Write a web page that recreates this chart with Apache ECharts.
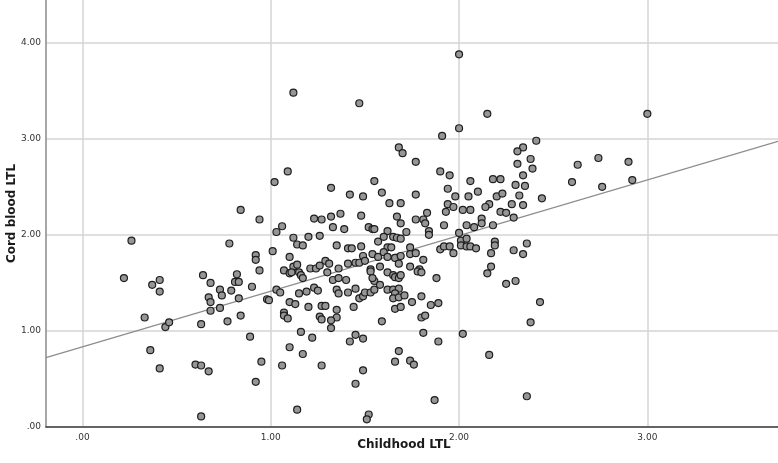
<!DOCTYPE html>
<html>
<head>
<meta charset="utf-8">
<script src="https://cdn.jsdelivr.net/npm/echarts@6/dist/echarts.min.js"></script>
<style>
  html, body { margin: 0; padding: 0; background: #fff; }
  #chart { width: 778px; height: 463px; }
</style>
</head>
<body>
<div id="chart"></div>
<script>
// axis ticks
var xTicks = [0, 1, 2, 3];
var yTicks = [0, 1, 2, 3, 4];

// childhood LTL (x) and cord blood LTL (y)
var childhoodLTL = [
  0.22,0.26,0.33,0.36,0.37,0.41,0.41,0.41,0.44,0.46,0.60,0.63,0.63,0.63,0.64,0.67,0.67,0.68,0.68,0.68,
  0.73,0.73,0.74,0.77,0.78,0.79,0.81,0.82,0.83,0.83,0.84,0.84,0.89,0.90,0.92,0.92,0.92,0.94,0.94,0.95,
  0.98,0.99,1.01,1.02,1.03,1.03,1.05,1.06,1.06,1.07,1.07,1.07,1.09,1.09,1.10,1.10,1.10,1.10,1.12,1.14,
  1.47,2.00,2.15,2.00,1.91,1.68,1.70,2.34,2.31,2.38,1.77,2.31,1.90,1.95,2.06,2.18,2.22,2.34,2.30,2.35,
  1.32,1.55,1.94,2.10,1.42,1.49,1.59,1.77,1.98,2.05,2.20,2.23,2.32,1.63,1.69,1.94,1.97,2.16,2.14,2.28,
  2.34,1.37,1.32,1.23,1.27,1.48,1.67,1.83,1.93,2.02,2.06,2.22,2.25,2.29,1.77,1.81,2.12,
  3.00,2.41,2.39,2.44,2.63,2.74,2.90,2.60,2.76,2.92,2.36,2.34,2.43,2.38,2.36,
  1.33,1.39,1.52,1.54,1.55,1.62,1.12,1.20,1.26,1.14,1.17,1.35,1.41,1.43,1.48,1.57,1.60,1.62,1.49,1.54,
  1.57,1.60,1.62,1.12,1.14,1.21,1.24,1.26,1.29,1.31,1.36,1.41,1.45,1.47,1.50,1.53,1.58,
  1.69,1.82,1.92,2.04,2.08,2.12,2.18,1.72,1.84,1.84,2.00,1.65,1.67,1.69,1.64,1.66,1.69,1.68,1.74,1.74,
  1.77,1.81,1.74,1.79,2.01,2.04,2.01,2.04,2.06,1.90,1.92,1.95,1.97,2.09,2.17,2.19,2.19,2.29,2.17,
  1.11,1.15,1.16,1.17,1.30,1.53,1.62,1.15,1.19,1.23,1.25,1.33,1.36,1.40,1.35,1.36,1.41,1.45,1.47,1.49,
  1.50,1.53,1.55,1.54,1.55,1.58,1.62,1.13,1.20,1.27,1.29,1.44,1.35,1.26,1.27,1.35,1.32,1.32,1.59,1.16,
  1.22,1.45,1.49,1.42,1.17,1.27,1.49,1.45,1.52,1.51,
  1.78,1.80,1.65,1.66,1.68,1.69,1.88,2.15,2.25,2.30,1.65,1.68,1.66,1.65,1.68,1.71,1.80,1.75,1.66,1.69,
  1.85,1.89,1.80,1.82,1.81,1.89,2.02,2.16,1.68,1.66,1.74,1.76,1.87
];
var cordBloodLTL = [
  1.55,1.94,1.14,0.80,1.48,1.53,1.41,0.61,1.04,1.09,0.65,1.07,0.64,0.11,1.58,0.58,1.35,1.30,1.50,1.21,
  1.43,1.24,1.37,1.10,1.91,1.42,1.51,1.59,1.34,1.51,1.16,2.26,0.94,1.46,1.79,1.74,0.47,2.16,1.63,0.68,
  1.33,1.32,1.83,2.55,2.03,1.43,1.40,0.64,2.09,1.19,1.63,1.16,1.13,2.66,1.77,1.60,1.30,0.83,3.48,0.18,
  3.37,3.88,3.26,3.11,3.03,2.91,2.85,2.91,2.87,2.79,2.76,2.74,2.66,2.62,2.56,2.58,2.58,2.62,2.52,2.51,
  2.49,2.56,2.48,2.45,2.42,2.40,2.44,2.42,2.40,2.40,2.40,2.43,2.41,2.33,2.33,2.32,2.29,2.32,2.29,2.32,
  2.31,2.22,2.19,2.17,2.16,2.20,2.19,2.23,2.24,2.26,2.26,2.24,2.23,2.18,2.16,2.16,2.17,
  3.26,2.98,2.69,2.38,2.73,2.80,2.76,2.55,2.50,2.57,1.91,1.80,1.30,1.09,0.32,
  2.08,2.06,2.08,2.06,2.06,2.04,1.97,1.98,1.99,1.90,1.89,1.89,1.86,1.86,1.88,1.93,1.98,1.87,1.78,1.80,
  1.77,1.82,1.77,1.67,1.69,1.65,1.65,1.68,1.73,1.70,1.65,1.70,1.71,1.71,1.73,1.64,1.67,
  2.12,2.12,2.10,2.10,2.08,2.12,2.10,2.03,2.04,2.00,2.02,1.98,1.97,1.96,1.87,1.76,1.78,1.70,1.87,1.80,
  1.81,1.74,1.67,1.64,1.94,1.96,1.89,1.88,1.88,1.85,1.88,1.88,1.81,1.86,1.81,1.93,1.89,1.84,1.67,
  1.61,1.61,1.58,1.55,1.61,1.62,1.61,1.39,1.41,1.45,1.42,1.53,1.55,1.53,1.43,1.39,1.40,1.44,1.34,1.36,
  1.40,1.40,1.52,1.55,1.43,1.48,1.43,1.28,1.25,1.26,1.26,1.25,1.22,1.15,1.12,1.14,1.11,1.03,1.10,0.99,
  0.93,0.96,0.92,0.89,0.76,0.64,0.59,0.45,0.13,0.08,
  1.62,1.61,1.58,1.56,1.55,1.58,1.55,1.60,1.49,1.52,1.43,1.44,1.39,1.34,1.35,1.37,1.36,1.30,1.23,1.25,
  1.27,1.29,1.14,1.16,0.98,0.89,0.97,0.75,0.79,0.68,0.69,0.65,0.28
];

// linear fit drawn by the original
var fitIntercept = 0.835;
var fitSlope = 0.579;

var xMin = -0.194, xMax = 3.694;
var yMin = 0, yMax = 4.445;

var points = childhoodLTL.map(function (x, i) { return [x, cordBloodLTL[i]]; });
var fitLine = [xMin, xMax].map(function (x) { return [x, fitIntercept + fitSlope * x]; });

function fmt(v) {
  return v === 0 ? '.00' : v.toFixed(2);
}

var chart = echarts.init(document.getElementById('chart'));
chart.setOption({
  animation: false,
  backgroundColor: '#ffffff',
  grid: { left: 46, right: 0, top: 0, bottom: 36, containLabel: false, outerBoundsMode: 'none' },
  xAxis: {
    type: 'value',
    min: xMin,
    max: xMax,
    name: 'Childhood LTL',
    nameLocation: 'middle',
    nameGap: 12,
    nameMoveOverlap: false,
    nameTextStyle: { fontFamily: 'DejaVu Sans', fontWeight: 'bold', fontSize: 12, color: '#1a1a1a', verticalAlign: 'top', padding: [0, 16, 0, 0] },
    axisLine: { onZero: false, lineStyle: { color: '#3c3c3c', width: 1.5 } },
    axisTick: { show: false, customValues: xTicks },
    axisLabel: { customValues: xTicks, formatter: fmt, fontFamily: 'DejaVu Sans', fontSize: 9, color: '#333', margin: 6 },
    splitLine: { show: true, lineStyle: { color: '#d4d4d4', width: 1.5 } }
  },
  yAxis: {
    type: 'value',
    min: yMin,
    max: yMax,
    name: 'Cord blood LTL',
    nameLocation: 'middle',
    nameGap: 28,
    nameMoveOverlap: false,
    nameTextStyle: { fontFamily: 'DejaVu Sans', fontWeight: 'bold', fontSize: 12, color: '#1a1a1a' },
    axisLine: { onZero: false, lineStyle: { color: '#8a8a8a', width: 1.5 } },
    axisTick: { show: false, customValues: yTicks },
    axisLabel: { customValues: yTicks, formatter: fmt, fontFamily: 'DejaVu Sans', fontSize: 9, color: '#333', margin: 5 },
    splitLine: { show: true, lineStyle: { color: '#d4d4d4', width: 1.5 } }
  },
  series: [
    {
      type: 'line',
      data: fitLine,
      symbol: 'none',
      silent: true,
      lineStyle: { color: '#8c8c8c', width: 1.2 },
      z: 2
    },
    {
      type: 'scatter',
      data: points,
      symbol: 'circle',
      symbolSize: 7,
      itemStyle: { color: '#969696', borderColor: '#1e1e1e', borderWidth: 1.2, opacity: 1 },
      z: 3
    }
  ]
});
</script>
</body>
</html>
